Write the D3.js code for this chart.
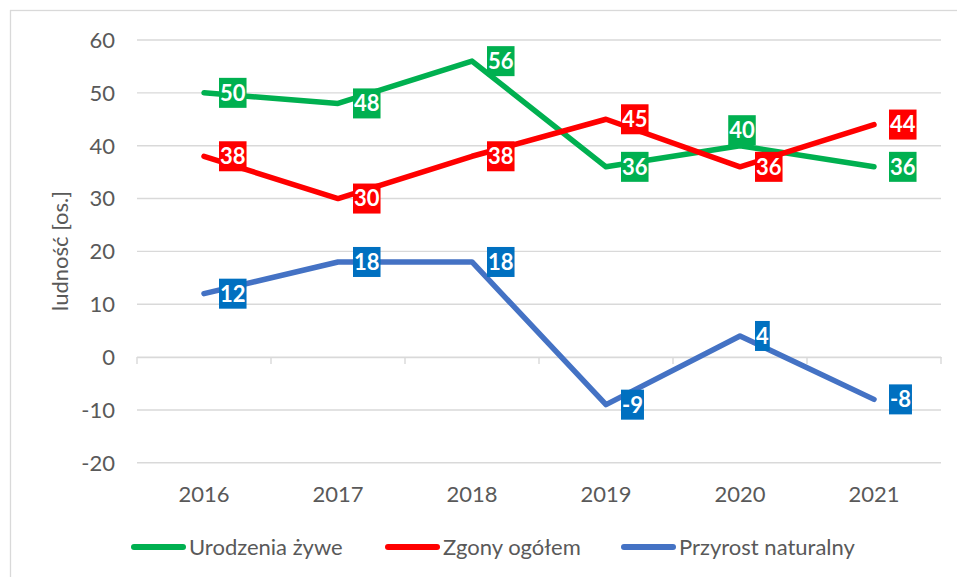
<!DOCTYPE html>
<html><head><meta charset="utf-8">
<script src="https://cdn.jsdelivr.net/npm/d3@7"></script>
<style>html,body{margin:0;padding:0;background:#fff;}svg{display:block;}</style>
</head><body>
<script>
const years = ["2016","2017","2018","2019","2020","2021"];
const urodzenia = [50,48,56,36,40,36];
const zgony = [38,30,38,45,36,44];
const przyrost = [12,18,18,-9,4,-8];
const yTicks = [-20,-10,0,10,20,30,40,50,60];
const seriesNames = ["Urodzenia żywe","Zgony ogółem","Przyrost naturalny"];
const lineColors = ["#00B050","#FF0000","#4472C4"];
const boxColors = ["#00B050","#FF0000","#0070C0"];
const yTitle = "ludność [os.]";
// label placement per series: "r" = right of point, "a" = above point
const labelPlace = [
  ["r","r","r","r","a","r"],
  ["r","r","r","r","r","r"],
  ["r","r","r","r","r","r"]
];

const W=957,H=577;
const svg=d3.select("body").append("svg").attr("width",W).attr("height",H);
const FONT="Lato, 'Open Sans', sans-serif";
const TXT="#595959";

svg.append("rect").attr("x",10.5).attr("y",10.5).attr("width",W+20).attr("height",H+20)
  .attr("fill","#fff").attr("stroke","#d9d9d9").attr("stroke-width",1.3);

const x=d3.scaleBand().domain(years).range([137,941]);
const y=d3.scaleLinear().domain([-20,60]).range([462.8,40]);

svg.append("g").selectAll("line").data(yTicks).join("line")
  .attr("x1",137).attr("x2",941).attr("y1",d=>y(d)).attr("y2",d=>y(d))
  .attr("stroke","#d9d9d9").attr("stroke-width",1.4);

svg.append("g").selectAll("text").data(yTicks).join("text")
  .attr("x",115).attr("y",d=>y(d)).attr("dy","0.36em").attr("text-anchor","end")
  .attr("font-family",FONT).attr("font-size",22).attr("fill",TXT).text(d=>d);

const xAxis=d3.axisBottom(x).tickSize(0).tickFormat("");
const gx=svg.append("g").attr("transform",`translate(0,${y(0)})`).call(xAxis);
gx.select(".domain").attr("stroke","#d9d9d9").attr("stroke-width",1.4);
const bounds=[...years.map(d=>x(d)),x.range()[1]];
svg.append("g").selectAll("line").data(bounds).join("line")
  .attr("x1",d=>d).attr("x2",d=>d).attr("y1",y(0)).attr("y2",y(0)+7)
  .attr("stroke","#d9d9d9").attr("stroke-width",1.4);

svg.append("g").selectAll("text").data(years).join("text")
  .attr("x",d=>x(d)+x.bandwidth()/2).attr("y",502).attr("text-anchor","middle")
  .attr("font-family",FONT).attr("font-size",22).attr("fill",TXT).text(d=>d);

svg.append("text").attr("transform","translate(68,251) rotate(-90)")
  .attr("text-anchor","middle").attr("font-family",FONT).attr("font-size",22)
  .attr("fill",TXT).text(yTitle);

const allSeries=[urodzenia,zgony,przyrost];
const cx=d=>x(d)+x.bandwidth()/2;
const line=d3.line().x((v,i)=>cx(years[i])).y(v=>y(v));
allSeries.forEach((s,k)=>{
  svg.append("path").datum(s).attr("d",line).attr("fill","none")
    .attr("stroke",lineColors[k]).attr("stroke-width",5.5)
    .attr("stroke-linecap","round").attr("stroke-linejoin","round");
});
allSeries.forEach((s,k)=>{
  s.forEach((v,i)=>{
    const px=cx(years[i]), py=y(v);
    const g=svg.append("g");
    const t=g.append("text").attr("font-family",FONT).attr("font-weight","bold")
      .attr("font-size",22).attr("fill","#fff").attr("dy","0.36em").text(v);
    const w=t.node().getComputedTextLength();
    let bx,by;
    if(labelPlace[k][i]==="a"){ bx=px+2-(w+2)/2; by=py-30.5; }
    else { bx=px+15; by=py-15; }
    t.attr("x",bx+1).attr("y",by+15);
    g.insert("rect","text").attr("x",bx).attr("y",by)
      .attr("width",w+2).attr("height",30).attr("fill",boxColors[k]);
  });
});

const legX=[131,385,621];
seriesNames.forEach((n,k)=>{
  svg.append("line").attr("x1",legX[k]+3).attr("x2",legX[k]+52).attr("y1",547).attr("y2",547)
    .attr("stroke",lineColors[k]).attr("stroke-width",6).attr("stroke-linecap","round");
  svg.append("text").attr("x",legX[k]+58).attr("y",547).attr("dy","0.36em")
    .attr("font-family",FONT).attr("font-size",22).attr("fill",TXT).text(n);
});
</script>
</body></html>
